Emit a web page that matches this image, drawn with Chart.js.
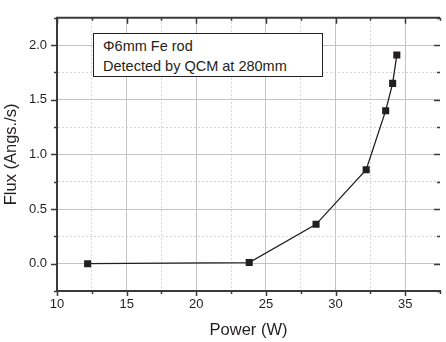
<!DOCTYPE html>
<html>
<head>
<meta charset="utf-8">
<title>Flux vs Power</title>
<script src="https://cdn.jsdelivr.net/npm/chart.js@4/dist/chart.umd.min.js"></script>
<style>
  body { margin: 0; background: #fff; }
  #wrap { position: relative; width: 446px; height: 342px; }
  #note {
    position: absolute; left: 93px; top: 33px; width: 230px; height: 44px;
    background: #fff; border: 1px solid #231f20;
    font: 14.5px "Liberation Sans", Arial, sans-serif; color: #231f20;
    line-height: 20px; padding: 2px 0 0 9px; box-sizing: border-box;
  }
</style>
</head>
<body>
<div id="wrap">
  <canvas id="chart" width="446" height="342"></canvas>
  <div id="note">Φ6mm Fe rod<br>Detected by QCM at 280mm</div>
</div>
<script>
  // data
  var power = [12.2, 23.8, 28.6, 32.2, 33.6, 34.1, 34.4];
  var flux = [0.0, 0.01, 0.36, 0.86, 1.40, 1.65, 1.91];
  var xTitle = "Power (W)";
  var yTitle = "Flux (Angs./s)";

  var ink = "#231f20";
  var axisCol = "#3a3a3a";
  var font = "'Liberation Sans', Arial, sans-serif";

  function isMajor(v, step) {
    return Math.abs(v / step - Math.round(v / step)) < 1e-6;
  }

  // frame: top line plus small ticks on all four sides
  var frame = {
    id: "frame",
    afterDraw: function(chart) {
      var c = chart.ctx, a = chart.chartArea;
      var xs = chart.scales.x, ys = chart.scales.y;
      c.save();
      c.strokeStyle = axisCol;
      c.lineWidth = 2;
      c.beginPath();
      c.moveTo(a.left - 1, a.top);
      c.lineTo(a.right, a.top);
      c.stroke();
      c.lineWidth = 1.5;
      c.beginPath();
      xs.ticks.forEach(function(t) {
        var p = Math.round(xs.getPixelForValue(t.value)) + 0.5;
        var m = isMajor(t.value, 5);
        c.moveTo(p, a.bottom); c.lineTo(p, a.bottom + (m ? 5 : 3));
        c.moveTo(p, a.top); c.lineTo(p, a.top + (m ? 6 : 3));
      });
      ys.ticks.forEach(function(t) {
        var p = Math.round(ys.getPixelForValue(t.value)) + 0.5;
        var m = isMajor(t.value, 0.5);
        c.moveTo(a.left - (m ? 6 : 3), p); c.lineTo(a.left, p);
        c.moveTo(a.right - (m ? 6 : 3), p); c.lineTo(a.right, p);
      });
      c.stroke();
      c.restore();
    }
  };

  function gridColor(step, lo, hi) {
    return function(ctx) {
      if (!ctx.tick) return "#bdbdbd";
      var v = ctx.tick.value;
      if (Math.abs(v - lo) < 1e-6 || Math.abs(v - hi) < 1e-6) return "rgba(0,0,0,0)";
      return isMajor(v, step) ? "#c4c4c4" : "#d4d4d4";
    };
  }
  function gridDash(step) {
    return function(ctx) {
      if (!ctx.tick) return [];
      return isMajor(ctx.tick.value, step) ? [] : [2, 2];
    };
  }

  new Chart(document.getElementById("chart"), {
    type: "scatter",
    data: {
      datasets: [{
        data: power.map(function(p, i) { return { x: p, y: flux[i] }; }),
        showLine: true,
        borderColor: ink,
        borderWidth: 1.3,
        pointStyle: "rect",
        pointRadius: 5,
        pointBackgroundColor: ink,
        pointBorderColor: ink,
        pointBorderWidth: 0
      }]
    },
    options: {
      responsive: false,
      animation: false,
      layout: { padding: { top: 13, right: 0, left: 0, bottom: 0 } },
      plugins: { legend: { display: false }, tooltip: { enabled: false } },
      scales: {
        x: {
          type: "linear",
          min: 10, max: 37.5,
          afterFit: function(s) { s.height = 51; },
          ticks: {
            stepSize: 2.5, padding: 6, color: ink,
            font: { family: font, size: 13 },
            maxRotation: 0, autoSkip: false,
            callback: function(v) { return isMajor(v, 5) ? String(v) : ""; }
          },
          grid: { drawTicks: false, color: gridColor(5, 10, 37.5), lineWidth: 1 },
          border: { color: axisCol, width: 2, dash: gridDash(5) },
          title: {
            display: true, text: xTitle, color: ink,
            font: { family: font, size: 16.5 }, padding: { top: 0, bottom: 2 }
          }
        },
        y: {
          min: -0.25, max: 2.25,
          afterFit: function(s) { s.width = 57; },
          ticks: {
            stepSize: 0.25, padding: 10, color: ink,
            font: { family: font, size: 13 },
            autoSkip: false,
            callback: function(v) { return isMajor(v, 0.5) ? v.toFixed(1) : ""; }
          },
          grid: { drawTicks: false, color: gridColor(0.5, -0.25, 2.25), lineWidth: 1 },
          border: { color: axisCol, width: 2, dash: gridDash(0.5) },
          title: {
            display: true, text: yTitle, color: ink,
            font: { family: font, size: 16.5 }, padding: { top: 2, bottom: 0 }
          }
        }
      }
    },
    plugins: [frame]
  });
</script>
</body>
</html>
